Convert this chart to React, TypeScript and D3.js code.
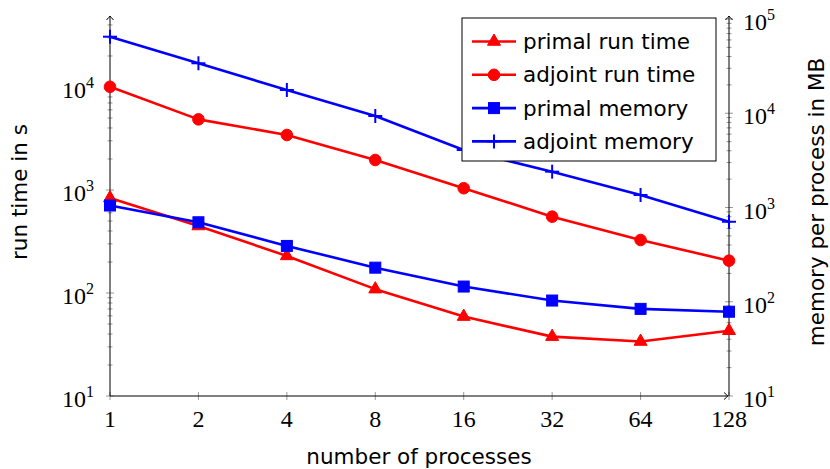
import React from 'react';
import * as d3 from 'd3';

// number of processes
const procs = [1, 2, 4, 8, 16, 32, 64, 128];
// run time in s (left axis)
const primalRunTime = [836, 447, 229, 109, 59, 37.7, 33.8, 43];
const adjointRunTime = [10050, 4850, 3420, 1955, 1040, 551, 327, 206];
// memory per process in MB (right axis)
const primalMemory = [1050, 697, 391, 230, 145, 103, 84, 78.4];
const adjointMemory = [64900, 33900, 17660, 9350, 4075, 2400, 1358, 706];

const seriesNames = ['primal run time', 'adjoint run time', 'primal memory', 'adjoint memory'];
const leftExponents = [1, 2, 3, 4];
const rightExponents = [1, 2, 3, 4, 5];

const RED = '#ff0000';
const BLUE = '#0000ff';
const SERIF = '"Liberation Serif", "DejaVu Serif", serif';
const SANS = '"DejaVu Sans", sans-serif';

const x = d3.scaleLog().base(2).domain([1, 128]).range([110, 729]);
const yLeft = d3.scaleLog().domain([10, Math.pow(10, 4.66)]).range([396, 19]);
const yRight = d3.scaleLog().domain([10, 1e5]).range([396, 19]);

const minorTicks = (scale: d3.ScaleLogarithmic<number, number>) => {
  const [lo, hi] = scale.domain();
  const out: number[] = [];
  for (let e = 1; e < 6; e++) {
    for (let m = 2; m <= 9; m++) {
      const v = m * Math.pow(10, e);
      if (v > lo && v < hi) out.push(v);
    }
  }
  return out;
};

const Marker = ({ kind, cx, cy }: { kind: string; cx: number; cy: number }) => {
  if (kind === 'triangle') {
    const r = 7.5;
    const pts = [0, 1, 2].map(i => {
      const a = -Math.PI / 2 + (i * 2 * Math.PI) / 3;
      return `${cx + r * Math.cos(a)},${cy + r * Math.sin(a)}`;
    });
    return <polygon points={pts.join(' ')} fill={RED} stroke={RED} strokeWidth={1} />;
  }
  if (kind === 'circle') return <circle cx={cx} cy={cy} r={5.8} fill={RED} stroke={RED} strokeWidth={1} />;
  if (kind === 'square')
    return <rect x={cx - 5.5} y={cy - 5.5} width={11} height={11} fill={BLUE} stroke={BLUE} strokeWidth={1} />;
  return (
    <g stroke={BLUE} strokeWidth={2}>
      <line x1={cx - 7} x2={cx + 7} y1={cy} y2={cy} />
      <line x1={cx} x2={cx} y1={cy - 7} y2={cy + 7} />
    </g>
  );
};

const series = [
  { name: seriesNames[0], values: primalRunTime, y: yLeft, color: RED, kind: 'triangle' },
  { name: seriesNames[1], values: adjointRunTime, y: yLeft, color: RED, kind: 'circle' },
  { name: seriesNames[2], values: primalMemory, y: yRight, color: BLUE, kind: 'square' },
  { name: seriesNames[3], values: adjointMemory, y: yRight, color: BLUE, kind: 'plus' },
];

const Arrow = ({ x0, y0, dir }: { x0: number; y0: number; dir: 'up' | 'right' }) => {
  const rot = dir === 'up' ? -90 : 0;
  return (
    <path
      d="M-4,-3.5 Q-1,-0.8 0,0 Q-1,0.8 -4,3.5"
      transform={`translate(${x0},${y0}) rotate(${rot})`}
      fill="none"
      stroke="#000"
      strokeWidth={1}
    />
  );
};

const YAxis = ({ scale, xPos, exps, side }: any) => {
  const major = exps.map((e: number) => Math.pow(10, e));
  return (
    <g>
      {minorTicks(scale).map((v: number) => (
        <line key={'m' + v} x1={xPos - 2.5} x2={xPos + 2.5} y1={scale(v)} y2={scale(v)} stroke="#555" strokeWidth={0.6} />
      ))}
      {major.map((v: number) => (
        <line key={'M' + v} x1={xPos - 4} x2={xPos + 4} y1={scale(v)} y2={scale(v)} stroke="#555" strokeWidth={0.6} />
      ))}
      {exps.map((e: number) => (
        <text
          key={'t' + e}
          x={side === 'left' ? 94 : 743}
          y={scale(Math.pow(10, e)) + 11}
          textAnchor={side === 'left' ? 'end' : 'start'}
          fontFamily={SERIF}
          fontSize={24}
        >
          10<tspan dy={-10} fontSize={16}>{e}</tspan>
        </text>
      ))}
      <line x1={xPos} x2={xPos} y1={396} y2={17} stroke="#000" strokeWidth={1} />
      <Arrow x0={xPos} y0={16} dir="up" />
    </g>
  );
};

export default function App() {
  const line = (ys: d3.ScaleLogarithmic<number, number>) =>
    d3
      .line<number>()
      .x((_, i) => x(procs[i]))
      .y(v => ys(v));

  const legendX = 462;
  const legendY = 18;
  const legendRow = 33.3;

  return (
    <svg width={830} height={469} style={{ position: 'absolute', left: 0, top: 0, background: '#fff' }}>
      {/* x axis */}
      {procs.map(p => (
        <g key={p}>
          <line x1={x(p)} x2={x(p)} y1={392} y2={400} stroke="#555" strokeWidth={0.6} />
          <text x={x(p)} y={427} textAnchor="middle" fontFamily={SERIF} fontSize={24}>
            {p}
          </text>
        </g>
      ))}
      <line x1={110} x2={727} y1={396} y2={396} stroke="#000" strokeWidth={1} />
      <Arrow x0={728} y0={396} dir="right" />

      <YAxis scale={yLeft} xPos={110} exps={leftExponents} side="left" />
      <YAxis scale={yRight} xPos={729} exps={rightExponents} side="right" />

      {/* series */}
      {series.map(s => (
        <g key={s.name}>
          <path d={line(s.y)(s.values) || ''} fill="none" stroke={s.color} strokeWidth={2.6} strokeLinejoin="round" />
          {s.values.map((v, i) => (
            <Marker key={i} kind={s.kind} cx={x(procs[i])} cy={s.y(v)} />
          ))}
        </g>
      ))}

      {/* axis titles */}
      <text x={419} y={464} textAnchor="middle" fontFamily={SANS} fontSize={21.5}>
        number of processes
      </text>
      <text
        transform="translate(27,192) rotate(-90)"
        textAnchor="middle"
        fontFamily={SANS}
        fontSize={21.5}
      >
        run time in s
      </text>
      <text
        transform="translate(824,202) rotate(-90)"
        textAnchor="middle"
        fontFamily={SANS}
        fontSize={21.5}
      >
        memory per process in MB
      </text>

      {/* legend */}
      <rect x={legendX} y={legendY} width={254} height={143} fill="#fff" stroke="#000" strokeWidth={1} />
      {series.map((s, i) => {
        const cy = legendY + 23.5 + i * legendRow;
        return (
          <g key={'lg' + s.name}>
            <line x1={472} x2={516} y1={cy} y2={cy} stroke={s.color} strokeWidth={2.6} />
            <Marker kind={s.kind} cx={494} cy={cy} />
            <text x={523} y={cy + 7.5} fontFamily={SANS} fontSize={21.5}>
              {s.name}
            </text>
          </g>
        );
      })}
    </svg>
  );
}
